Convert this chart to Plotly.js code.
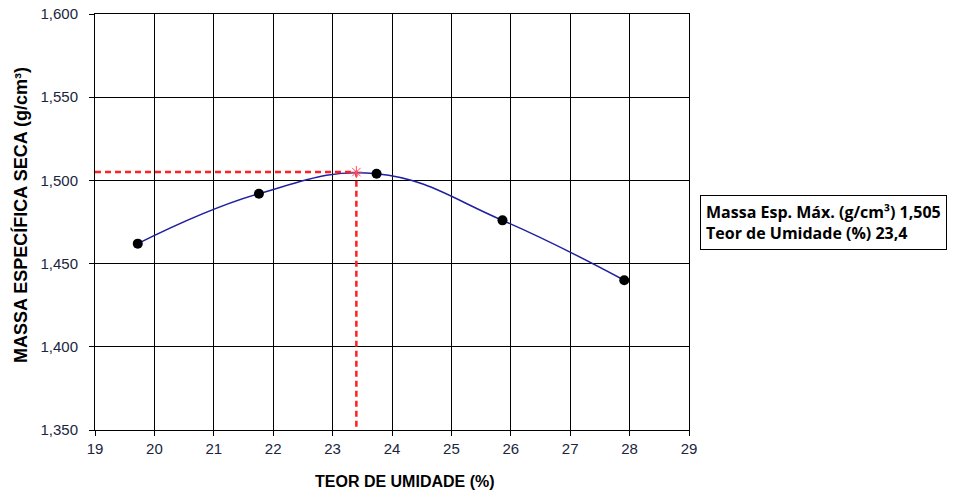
<!DOCTYPE html>
<html>
<head>
<meta charset="utf-8">
<script src="https://cdn.plot.ly/plotly-3.0.1.min.js"></script>
<style>html,body{margin:0;padding:0;background:#fff;}#chart{width:955px;height:493px;}</style>
</head>
<body>
<div id="chart"></div>
<script>
// Data
const teorUmidade = [19.72, 21.76, 23.74, 25.86, 27.91];
const massaEspecifica = [1.462, 1.492, 1.504, 1.476, 1.440];
const maxUmidade = 23.4;
const maxMassa = 1.505;
const xTicks = [19, 20, 21, 22, 23, 24, 25, 26, 27, 28, 29];
const yTicks = [1.35, 1.40, 1.45, 1.50, 1.55, 1.60];

const traces = [
  {
    x: teorUmidade, y: massaEspecifica, type: 'scatter', mode: 'lines',
    line: {color: '#1f1fa0', width: 1.5, shape: 'spline', smoothing: 1.2},
    hoverinfo: 'skip', showlegend: false
  },
  {
    x: [xTicks[0], maxUmidade, maxUmidade], y: [maxMassa, maxMassa, yTicks[0]],
    type: 'scatter', mode: 'lines',
    line: {color: '#ff2020', width: 2.5, dash: '6px,4px'},
    showlegend: false
  },
  {
    x: teorUmidade, y: massaEspecifica, type: 'scatter', mode: 'markers',
    marker: {color: '#000', size: 10},
    showlegend: false
  },
  {
    x: [maxUmidade], y: [maxMassa], type: 'scatter', mode: 'markers',
    marker: {symbol: 'asterisk-open', size: 10, color: '#ff5060', line: {color: '#ff5060', width: 1}},
    showlegend: false
  }
];

const titleFont = {color: '#000', family: 'Liberation Sans, Arial, sans-serif', weight: 'bold'};

const layout = {
  width: 955, height: 493,
  margin: {l: 95, r: 266, t: 14, b: 63},
  paper_bgcolor: '#fff', plot_bgcolor: '#fff',
  separators: ',.',
  font: {family: 'Liberation Sans, Arial, sans-serif', color: '#1a2540'},
  xaxis: {
    range: [19, 29], tickvals: xTicks, ticktext: xTicks.map(String),
    showgrid: true, gridcolor: '#000', gridwidth: 1,
    showline: true, linecolor: '#000', linewidth: 1, mirror: true,
    ticks: 'outside', ticklen: 5, tickcolor: '#000',
    tickfont: {size: 15, color: '#1a2540'}, zeroline: false
  },
  yaxis: {
    range: [1.35, 1.60], tickvals: yTicks, tickformat: '.3f',
    showgrid: true, gridcolor: '#000', gridwidth: 1,
    showline: true, linecolor: '#000', linewidth: 1, mirror: true,
    ticks: 'outside', ticklen: 5, tickcolor: '#000', ticklabelstandoff: 8,
    tickfont: {size: 15, color: '#1a2540'}, zeroline: false
  },
  annotations: [
    {
      xref: 'paper', yref: 'paper', x: -0.1263, y: 0.5168,
      xanchor: 'center', yanchor: 'middle', textangle: -90,
      text: 'MASSA ESPECÍFICA SECA (g/cm³)',
      font: Object.assign({size: 18}, titleFont), showarrow: false
    },
    {
      xref: 'paper', yref: 'paper', x: 0.522, y: -0.1226,
      xanchor: 'center', yanchor: 'middle',
      text: 'TEOR DE UMIDADE (%)',
      font: Object.assign({size: 16}, titleFont), showarrow: false
    },
    {
      xref: 'paper', yref: 'paper',
      x: 1.0185, y: 0.4976, xanchor: 'left', yanchor: 'middle',
      align: 'left',
      text: '<b>Massa Esp. Máx. (g/cm³) 1,505</b><br><b>Teor de Umidade (%) 23,4</b>',
      font: {size: 16, color: '#000', family: 'Open Sans, sans-serif'},
      showarrow: false,
      bordercolor: '#000', borderwidth: 1, borderpad: 5, bgcolor: '#fff'
    }
  ]
};

Plotly.newPlot('chart', traces, layout, {displayModeBar: false, staticPlot: true});
</script>
</body>
</html>
